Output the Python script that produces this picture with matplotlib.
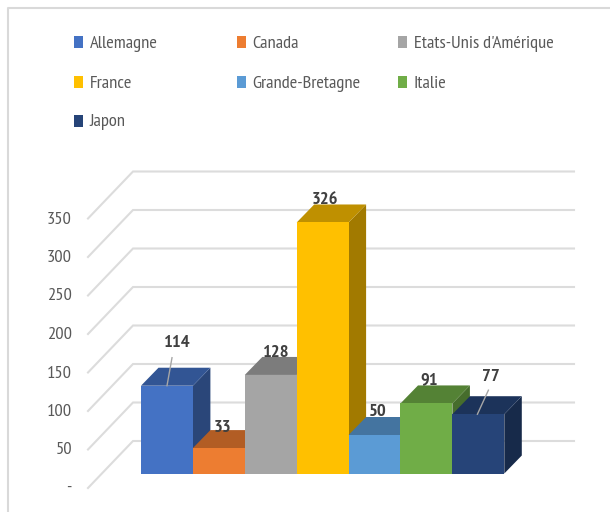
import matplotlib
matplotlib.use('Agg')
import matplotlib.pyplot as plt
from matplotlib.patches import Polygon, Rectangle

plt.rcParams['font.family'] = ['PT Sans Narrow', 'Liberation Sans', 'DejaVu Sans']

countries = ['Allemagne', 'Canada', "Etats-Unis d'Amérique", 'France', 'Grande-Bretagne', 'Italie', 'Japon']
values = [114, 33, 128, 326, 50, 91, 77]
ticks = [0, 50, 100, 150, 200, 250, 300, 350]
tick_labels = ['-', '50', '100', '150', '200', '250', '300', '350']

front_colors = ['#4472C4', '#ED7D31', '#A5A5A5', '#FFC000', '#5B9BD5', '#70AD47', '#264478']
top_colors = ['#325594', '#B25D24', '#7C7C7C', '#BF9000', '#4474A0', '#548235', '#1C335A']
side_colors = ['#2A4679', '#8E4B1D', '#656565', '#A27A00', '#375F82', '#466D2C', '#172A4A']

W, H = 610, 512
X0, BAR_W = 141, 51.9      # pixels: left of the first bar, bar width
Y0, PX_UNIT = 473.5, 0.77  # pixels: bar base, height of one unit

fig = plt.figure(figsize=(W / 100, H / 100), dpi=100)
ax = fig.add_axes([0, 0, 1, 1])
ax.set_xlim(-X0 / BAR_W, (W - X0) / BAR_W)
ax.set_ylim((Y0 - H) / PX_UNIT, Y0 / PX_UNIT)
ax.axis('off')

# depth of the bars, in data units
dx = 17.5 / BAR_W
dy = 18 / PX_UNIT

# outer frame, only left and top show
fig.add_artist(plt.Line2D([7.5 / W, 7.5 / W, 1], [0, 1 - 8 / H, 1 - 8 / H], color='#D9D9D9', lw=1.5))

# gridlines on the floor edge and back wall
wall_x0 = (133 - X0) / BAR_W
wall_x1 = (574 - X0) / BAR_W
floor_x = (88 - X0) / BAR_W
wall_up = (Y0 - 441) / PX_UNIT
floor_up = (Y0 - 488) / PX_UNIT
for t, lab in zip(ticks, tick_labels):
    ax.plot([floor_x, wall_x0, wall_x1], [t + floor_up, t + wall_up, t + wall_up],
            color='#DCDCDC', lw=1.5, zorder=1, solid_joinstyle='miter')
    ax.text(floor_x - 16 / BAR_W, t + floor_up - 1 / PX_UNIT, lab, ha='right', va='center',
            color='#595959', fontsize=13.3)

# bars, left to right so each one hides the side of the previous
for i, v in enumerate(values):
    z = 2 + i
    ax.add_patch(Polygon([(i + 1, 0), (i + 1 + dx, dy), (i + 1 + dx, v + dy), (i + 1, v)],
                         facecolor=side_colors[i], edgecolor='none', zorder=z))
    ax.add_patch(Polygon([(i, v), (i + dx, v + dy), (i + 1 + dx, v + dy), (i + 1, v)],
                         facecolor=top_colors[i], edgecolor='none', zorder=z))
    ax.add_patch(Polygon([(i, 0), (i + 1, 0), (i + 1, v), (i, v)],
                         facecolor=front_colors[i], edgecolor='none', zorder=z))

# value labels, offset from the bar's top left corner (pixels)
label_offset = [(35, 43), (30, 20.5), (30, 21.5), (28.5, 22), (29, 22.5), (29, 23.5), (38.5, 37.5)]
for i, v in enumerate(values):
    ox, oy = label_offset[i]
    ax.text(i + ox / BAR_W, v + oy / PX_UNIT, str(v), ha='center', va='center',
            color='#404040', fontsize=13.3, fontweight='bold', zorder=20)

# leader lines on the two labels that sit away from their bar
ax.plot([0 + 26 / BAR_W, 0 + 31 / BAR_W], [values[0], values[0] + 28 / PX_UNIT], color='#A6A6A6', lw=1, zorder=20)
ax.plot([6 + 25 / BAR_W, 6 + 36 / BAR_W], [values[6], values[6] + 24 / PX_UNIT], color='#A6A6A6', lw=1, zorder=20)

# legend, 3 columns
col_x = [74, 237, 398]
row_y = [42, 82, 121]
for i, name in enumerate(countries):
    x = col_x[i % 3]
    y = row_y[i // 3]
    fig.add_artist(Rectangle((x / W, 1 - (y + 6) / H), 8.5 / W, 12 / H, transform=fig.transFigure,
                             facecolor=front_colors[i], edgecolor='none'))
    fig.text((x + 15.5) / W, 1 - (y + 1.5) / H, name, ha='left', va='center', color='#595959', fontsize=13.3)

fig.savefig('out.png', dpi=100, facecolor='white')
